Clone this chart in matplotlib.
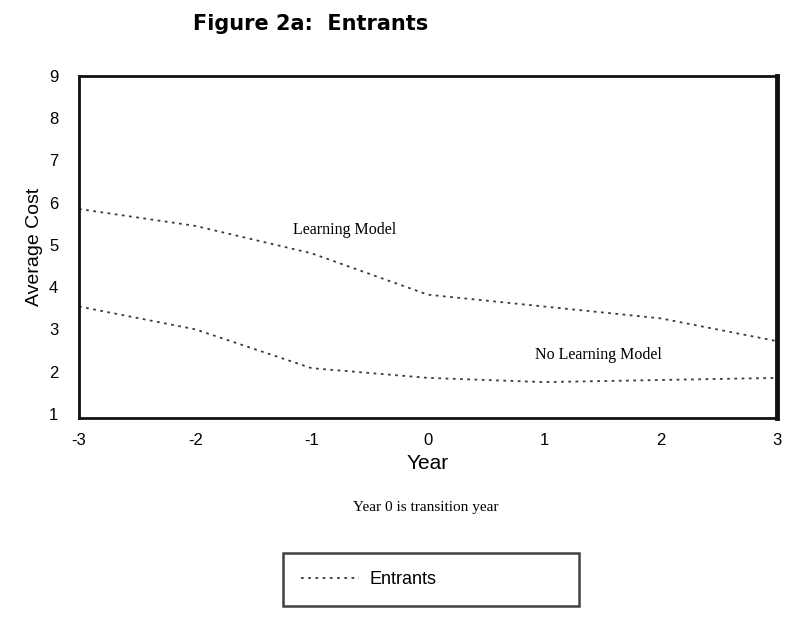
"""
Figure 2a: average cost of entrants, learning vs no-learning model.
"""
import matplotlib
matplotlib.use("Agg")
import matplotlib.pyplot as plt

years = [-3, -2, -1, 0, 1, 2, 3]
learning_cost = [5.85, 5.45, 4.8, 3.82, 3.54, 3.26, 2.72]
no_learning_cost = [3.54, 3.0, 2.08, 1.85, 1.75, 1.8, 1.85]
y_ticks = [1, 2, 3, 4, 5, 6, 7, 8, 9]
x_ticks = [-3, -2, -1, 0, 1, 2, 3]

plt.rcParams["font.family"] = ["Liberation Sans", "DejaVu Sans"]

fig = plt.figure(figsize=(7.96, 6.36), dpi=100)
W, H = 796, 636
ax = fig.add_axes([79 / W, 1 - 418 / H, 698 / W, 342 / H])

line_style = dict(color="#3a3a3a", lw=1.3, linestyle=(0, (1.5, 2.5)))
ax.plot(years, learning_cost, label="Entrants", **line_style)
ax.plot(years, no_learning_cost, label="_nolegend_", **line_style)

ax.set_xlim(-3, 3)
ax.set_ylim(0.9, 9.0)
ax.set_xticks(x_ticks)
ax.set_xticklabels([str(v) for v in x_ticks])
ax.set_yticks(y_ticks)
ax.tick_params(length=0, labelsize=12)
ax.tick_params(axis="y", pad=15)
ax.tick_params(axis="x", pad=11)
for s in ax.spines.values():
    s.set_linewidth(2)
    s.set_color("#111111")
ax.spines["right"].set_linewidth(3.5)

ax.set_xlabel("Year", fontsize=15, labelpad=4)
ax.set_ylabel("Average Cost", fontsize=14, labelpad=4)

ax.text(-1.16, 5.25, "Learning Model", family="Liberation Serif", fontsize=11.5)
ax.text(0.92, 2.3, "No Learning Model", family="Liberation Serif", fontsize=11.5)

fig.text(311 / W, 1 - 24 / H, "Figure 2a:  Entrants", ha="center", va="center",
         family="DejaVu Sans", fontsize=15, fontweight="bold")
fig.text(426 / W, 1 - 507 / H, "Year 0 is transition year", ha="center", va="center",
         family="Liberation Serif", fontsize=11)

leg = fig.legend(loc="lower left", mode="expand",
                 bbox_to_anchor=(283 / W, 1 - 606 / H, 296 / W, 60 / H),
                 fontsize=13, frameon=True, fancybox=False, handlelength=3.2,
                 handletextpad=0.6, borderaxespad=0, borderpad=1.0)
leg.get_frame().set_edgecolor("#111111")
leg.get_frame().set_linewidth(1.8)

fig.savefig("out.png", dpi=100)
